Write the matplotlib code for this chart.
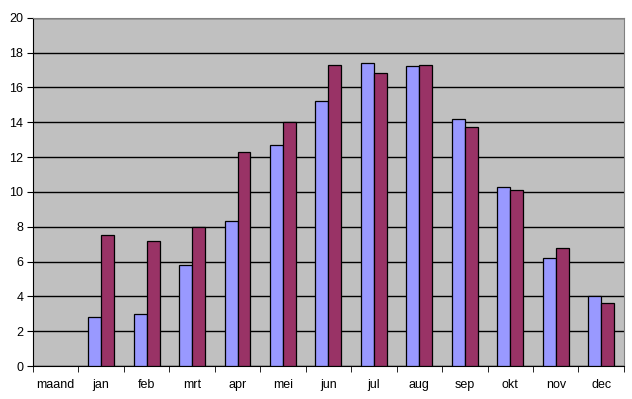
import numpy as np
import matplotlib.pyplot as plt

plt.rcParams['font.family'] = ['Liberation Sans', 'DejaVu Sans']

maanden = ['maand', 'jan', 'feb', 'mrt', 'apr', 'mei', 'jun', 'jul', 'aug', 'sep', 'okt', 'nov', 'dec']
reeks1 = [np.nan, 2.8, 3.0, 5.8, 8.3, 12.7, 15.2, 17.4, 17.2, 14.2, 10.3, 6.2, 4.0]
reeks2 = [np.nan, 7.5, 7.2, 8.0, 12.3, 14.0, 17.3, 16.8, 17.3, 13.7, 10.1, 6.8, 3.6]

fig = plt.figure(figsize=(6.32, 3.99), dpi=100)
ax = fig.add_axes([0.0522, 0.0827, 0.935, 0.873])
ax.set_facecolor('#C0C0C0')

x = np.arange(len(maanden))
w = 0.285
ax.bar(x - w / 2, reeks1, w, color='#9999FF', edgecolor='black', linewidth=0.9, zorder=3)
ax.bar(x + w / 2, reeks2, w, color='#993366', edgecolor='black', linewidth=0.9, zorder=3)

ax.set_xlim(-0.5, len(maanden) - 0.5)
ax.set_ylim(0, 20)
ax.set_yticks(range(0, 21, 2))
ax.yaxis.grid(True, color='black', linewidth=1, zorder=1)

ax.set_xticks(x)
ax.set_xticklabels(maanden)
ax.tick_params(axis='x', which='major', length=0, pad=9, labelsize=9)
ax.set_xticks(np.arange(-0.5, len(maanden)), minor=True)
ax.tick_params(axis='x', which='minor', length=4, direction='out', color='black')
ax.tick_params(axis='y', length=4, direction='out', labelsize=9, pad=3)

for s in ['top', 'right']:
    ax.spines[s].set_color('#808080')
for s in ['left', 'bottom']:
    ax.spines[s].set_color('black')

fig.savefig('out.png', dpi=100)
